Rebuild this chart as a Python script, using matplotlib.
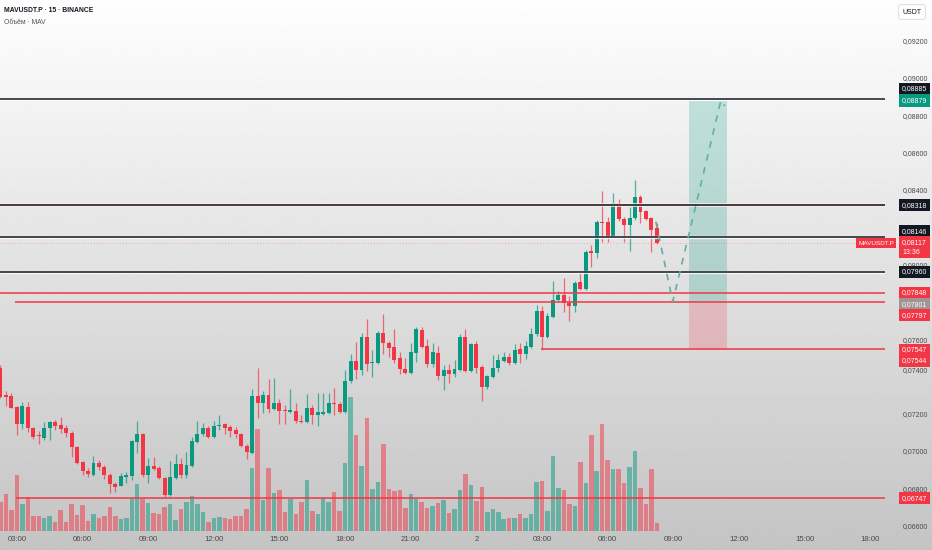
import numpy as np
import matplotlib.pyplot as plt
from matplotlib import font_manager
from matplotlib.transforms import blended_transform_factory

names = {f.name for f in font_manager.fontManager.ttflist}
main_font = 'Liberation Sans Narrow' if 'Liberation Sans Narrow' in names else 'Liberation Sans'
plt.rcParams['font.family'] = [main_font, 'DejaVu Sans']

GREEN = '#089981'
RED = '#f23645'

# 15m candles, prices in 1e-5 USDT (first bar 02:15, last bar 08:15 next day)
opens = [7445, 7300, 7295, 7236, 7145, 7238, 7123, 7080, 7071, 7122,
         7157, 7139, 7122, 7098, 7020, 6941, 6894, 6871, 6934, 6912,
         6873, 6823, 6814, 6862, 6866, 7050, 7091, 6871, 6921, 6907,
         6854, 6762, 6857, 6929, 6870, 6921, 7050, 7090, 7122, 7077,
         7134, 7145, 7130, 7113, 7091, 7028, 6991, 7295, 7259, 7300,
         7225, 7259, 7220, 7209, 7214, 7162, 7155, 7230, 7193, 7200,
         7205, 7256, 7254, 7209, 7375, 7482, 7434, 7613, 7470, 7474,
         7634, 7577, 7556, 7497, 7440, 7417, 7527, 7649, 7563, 7466,
         7527, 7402, 7434, 7413, 7434, 7613, 7429, 7572, 7452, 7342,
         7398, 7443, 7482, 7505, 7470, 7545, 7518, 7559, 7626, 7751,
         7613, 7720, 7809, 7836, 7792, 7779, 7904, 7869, 8072, 8063,
         8229, 8226, 8154, 8331, 8244, 8212, 8248, 8360, 8287, 8251,
         8194]
highs = [7461, 7322, 7311, 7241, 7265, 7263, 7129, 7109, 7154, 7161,
         7166, 7184, 7139, 7107, 7027, 6946, 6911, 6973, 6952, 6923,
         6882, 6836, 6880, 6889, 7059, 7161, 7096, 6961, 6966, 6919,
         6861, 6946, 6982, 6962, 6995, 7075, 7163, 7152, 7136, 7163,
         7193, 7150, 7139, 7130, 7096, 7038, 7330, 7443, 7322, 7384,
         7390, 7277, 7247, 7330, 7259, 7193, 7305, 7247, 7312, 7312,
         7312, 7336, 7263, 7434, 7520, 7583, 7634, 7708, 7541, 7643,
         7733, 7591, 7652, 7532, 7499, 7581, 7666, 7663, 7600, 7581,
         7565, 7461, 7465, 7488, 7627, 7652, 7581, 7590, 7461, 7407,
         7515, 7518, 7532, 7524, 7574, 7581, 7591, 7661, 7783, 7778,
         7740, 7911, 7859, 7926, 7831, 7911, 7958, 8078, 8104, 8239,
         8396, 8256, 8382, 8350, 8256, 8310, 8453, 8373, 8292, 8253,
         8224]
lows = [7284, 7241, 7228, 7086, 7118, 7104, 7064, 7038, 7059, 7059,
        7113, 7095, 7073, 6970, 6930, 6871, 6862, 6866, 6898, 6848,
        6773, 6782, 6810, 6827, 6844, 6991, 6863, 6830, 6898, 6850,
        6746, 6756, 6850, 6855, 6855, 6914, 7043, 7080, 7070, 7070,
        7113, 7090, 7077, 7071, 7021, 6955, 6984, 7175, 7205, 7202,
        7220, 7145, 7145, 7202, 7149, 7148, 7149, 7145, 7134, 7193,
        7198, 7193, 7204, 7204, 7365, 7386, 7407, 7429, 7395, 7467,
        7520, 7505, 7473, 7413, 7413, 7413, 7479, 7552, 7452, 7452,
        7381, 7327, 7363, 7398, 7429, 7422, 7424, 7420, 7270, 7335,
        7391, 7425, 7477, 7461, 7467, 7473, 7492, 7552, 7617, 7544,
        7606, 7713, 7799, 7747, 7699, 7744, 7863, 7863, 7988, 8033,
        8122, 8122, 8147, 8233, 8122, 8074, 8239, 8224, 8239, 8069,
        8110]
closes = [7290, 7292, 7233, 7145, 7241, 7125, 7077, 7078, 7123, 7157,
          7134, 7116, 7098, 7020, 6937, 6894, 6875, 6934, 6912, 6871,
          6823, 6809, 6868, 6873, 7052, 7091, 6871, 6921, 6905, 6854,
          6762, 6861, 6930, 6871, 6923, 7055, 7090, 7125, 7077, 7136,
          7141, 7125, 7109, 7091, 7028, 6993, 7295, 7259, 7299, 7225,
          7259, 7214, 7214, 7220, 7162, 7155, 7230, 7191, 7207, 7209,
          7256, 7250, 7211, 7375, 7482, 7434, 7613, 7465, 7479, 7634,
          7577, 7554, 7488, 7440, 7417, 7532, 7652, 7559, 7466, 7529,
          7402, 7434, 7413, 7438, 7613, 7429, 7574, 7447, 7342, 7402,
          7443, 7488, 7505, 7470, 7541, 7518, 7563, 7627, 7751, 7613,
          7725, 7809, 7836, 7792, 7778, 7899, 7869, 8069, 8063, 8229,
          8224, 8154, 8328, 8242, 8212, 8248, 8360, 8283, 8244, 8185,
          8117]
# volume, arbitrary units
volumes = [28.7, 37, 21, 55.7, 27, 33.7, 15, 15, 13, 15,
           9, 21, 9, 26.7, 16, 26, 10, 16.7, 13, 15,
           24.3, 15, 11.7, 13, 31.7, 47, 32, 27.7, 17.7, 17,
           23.7, 27, 11, 21.7, 28.7, 35, 26.7, 19.3, 8.7, 12.7,
           13.7, 12.7, 11.7, 15, 15, 22, 62.7, 102, 31, 62.7,
           37.7, 41, 18.7, 31.7, 17, 29.3, 51, 20, 16.7, 32.7,
           29, 39, 20, 68.3, 134, 96, 65.3, 113.3, 42, 48.7,
           87, 41.7, 40, 41, 23.3, 37, 32.3, 29.3, 22.7, 25,
           28.3, 31, 17.7, 21.7, 41, 57, 46, 30, 43.7, 19.3,
           22, 19.3, 11.7, 13.3, 13.3, 17.3, 13.3, 17, 49.3, 50,
           20, 75, 42.7, 40.7, 27.3, 25.3, 69.3, 48, 96, 60.3,
           106.7, 71, 61.7, 62, 47.7, 63.7, 80, 43, 27.3, 62,
           7.7]

time_ticks = [3, 15, 27, 39, 51, 63, 75, 87, 99, 111, 123, 135, 147, 159]
time_labels = ['03:00', '06:00', '09:00', '12:00', '15:00', '18:00', '21:00',
               '2', '03:00', '06:00', '09:00', '12:00', '15:00', '18:00']
price_ticks = [0.066, 0.068, 0.070, 0.072, 0.076, 0.080, 0.084, 0.086, 0.088, 0.090, 0.092]

black_levels = [0.08885, 0.08318, 0.08146, 0.07960]
red_levels = [0.07848, 0.07797, 0.07547, 0.06747]
red_starts = [-0.1, 2.65, 98.8, 2.8]

entry, target, stop = 0.07801, 0.08879, 0.07544
pos_from, pos_to = 125.9, 132.9
path_x = [119.8, 122.9, 131.7, 132.4]
path_y = [0.08230, 0.07801, 0.08879, 0.08850]
last_price = 0.08117

# price axis tags: text, level, shift in px (down +), colour
tags = [('0,08885', 0.08885, -10.5, '#131722'),
        ('0,08879', 0.08879, 0, GREEN),
        ('0,08318', 0.08318, 0, '#131722'),
        ('0,08146', 0.08146, -6, '#131722'),
        ('0,08117\n13:36', 0.08117, 4.5, RED),
        ('0,07960', 0.07960, 0, '#131722'),
        ('0,07848', 0.07848, 0, RED),
        ('0,07801', 0.07801, 2.5, '#a09494'),
        ('0,07797', 0.07797, 12.7, RED),
        ('0,07547', 0.07547, 1, RED),
        ('0,07544', 0.07544, 11.5, RED),
        ('0,06747', 0.06747, 0, RED)]

o = np.array(opens) / 1e5
h = np.array(highs) / 1e5
l = np.array(lows) / 1e5
c = np.array(closes) / 1e5
idx = np.arange(len(o))
up = c >= o
col = np.where(up, GREEN, RED)

W, H = 932, 550
fig = plt.figure(figsize=(W / 100, H / 100), dpi=100)
bg = fig.add_axes([0, 0, 1, 1], zorder=-10)
grad = np.linspace(254, 196, 256).reshape(-1, 1)
bg.imshow(grad, cmap='gray', vmin=0, vmax=255, aspect='auto', extent=[0, 1, 0, 1])
bg.axis('off')

ax = fig.add_axes([0, 19 / H, 885 / W, 531 / H])
ax.set_facecolor('none')
vax = ax.twinx()
ax.set_zorder(2)
vax.set_zorder(1)

x0, x1 = -0.09, 161.7
ax.set_xlim(x0, x1)
ax.set_ylim(0.06571, 0.094182)

# volume overlay
vax.bar(idx, volumes, width=0.82, color=col, alpha=0.5, linewidth=0)
vax.set_ylim(0, 531)
vax.axis('off')

# candles
ax.vlines(idx, l, h, colors=col, lw=0.9, alpha=0.7, zorder=3)
ax.bar(idx, np.maximum(np.abs(c - o), 0.00006), bottom=np.minimum(o, c),
       width=0.72, color=col, linewidth=0, zorder=4)

# levels
for lv in black_levels:
    lc = '#4b3f3f' if lv == 0.08318 else '#131722'
    lw = 1.5 if lv == 0.08318 else 1.1
    ax.hlines(lv, x0, x1, colors='white', lw=lw + 1.3, alpha=0.8, zorder=5)
    ax.hlines(lv, x0, x1, colors=lc, lw=lw, zorder=6)
for lv, st in zip(red_levels, red_starts):
    ax.hlines(lv, st, x1, colors=RED, lw=1.1, zorder=6)
ax.hlines(last_price, x0, x1, colors=RED, lw=0.7, alpha=0.35, linestyles=(0, (1, 2)), zorder=5)

# long position tool
ax.fill_between([pos_from, pos_to], entry, target, color=GREEN, alpha=0.22, linewidth=0, zorder=2)
ax.fill_between([pos_from, pos_to], stop, entry, color=RED, alpha=0.22, linewidth=0, zorder=2)
ax.plot(path_x, path_y, color='#5fb0a4', lw=1.2, ls=(0, (4, 4)), zorder=7)

for s in ax.spines.values():
    s.set_visible(False)
ax.set_xticks(time_ticks)
ax.set_xticklabels(time_labels)
ax.tick_params(axis='x', length=0, pad=3.5, labelsize=5.6, labelcolor='#4a4a4a')
ax.yaxis.tick_right()
ax.set_yticks(price_ticks)
ax.set_yticklabels([f'{v:.5f}'.replace('.', ',') for v in price_ticks])
ax.tick_params(axis='y', length=0, pad=13, labelsize=5.0, labelcolor='#4a4a4a')

trans = blended_transform_factory(ax.transAxes, ax.transData)
ax.annotate('0,07400', xy=(1, 0.074), xycoords=trans, xytext=(17.5, 6),
            textcoords='offset pixels', ha='left', va='center', fontsize=5.0,
            color='#4a4a4a', annotation_clip=False)
for txt, lv, dy, fc in tags:
    ax.annotate(txt, xy=(1, lv), xycoords=trans, xytext=(17, -dy),
                textcoords='offset pixels', ha='left', va='center', fontsize=5.0,
                color='white', linespacing=1.6, annotation_clip=False, zorder=10,
                bbox=dict(boxstyle='square,pad=0.4', fc=fc, ec='none'))
ax.annotate('MAVUSDT.P', xy=(1, last_price), xycoords=trans, xytext=(9, -0.5),
            textcoords='offset pixels', ha='right', va='center', fontsize=4.6,
            color='white', annotation_clip=False, zorder=10,
            bbox=dict(boxstyle='square,pad=0.35', fc=RED, ec='none'))

fig.text(4 / W, 1 - 11 / H, 'MAVUSDT.P · 15 · BINANCE', fontsize=4.9, color='#131722',
         weight='bold', va='center')
fig.text(4 / W, 1 - 22 / H, 'Объём · MAV', fontsize=4.9, color='#555555', va='center')
fig.text(912 / W, 1 - 12 / H, 'USDT', fontsize=5.0, color='#131722', ha='center', va='center',
         bbox=dict(boxstyle='round,pad=0.55,rounding_size=0.3', fc='white', ec='#d8d8d8', lw=0.6))

fig.savefig('out.png', dpi=100)
